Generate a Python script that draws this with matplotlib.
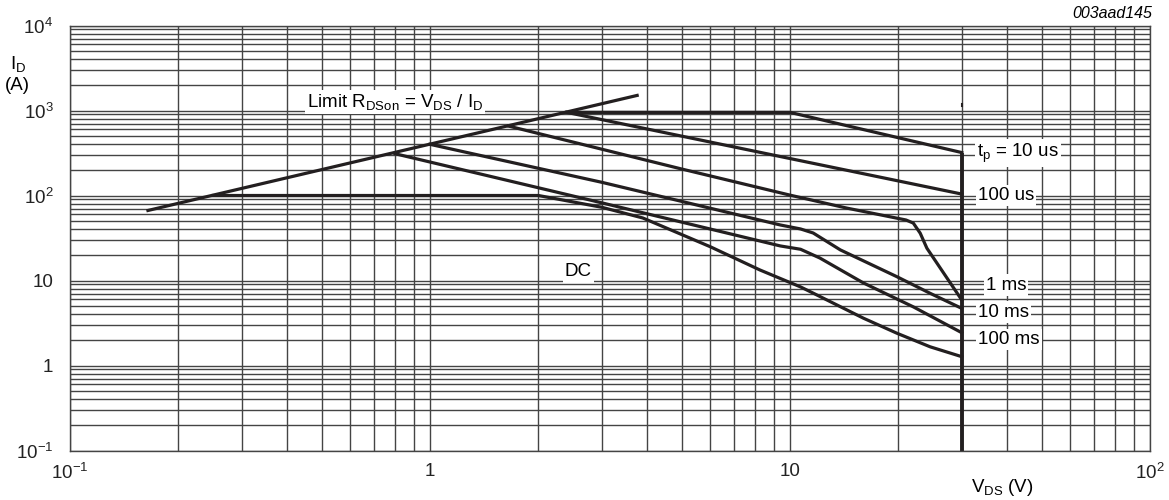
import matplotlib
matplotlib.use('Agg')
from matplotlib import pyplot as plt
from matplotlib.ticker import FixedLocator, LogLocator, NullFormatter

plt.rcParams['font.family'] = ['Liberation Sans', 'DejaVu Sans']
plt.rcParams['mathtext.fontset'] = 'custom'
plt.rcParams['mathtext.rm'] = 'Liberation Sans'
plt.rcParams['mathtext.it'] = 'Liberation Sans:italic'

# safe operating area, V_DS (V) vs I_D (A)
limit_v = [0.163, 3.8]
limit_i = [66, 1520]

tp10us_v = [2.4, 10, 30]
tp10us_i = [950, 950, 320]

tp100us_v = [2.4, 30]
tp100us_i = [950, 104]

tp1ms_v = [1.65, 5.0, 10, 14.4, 21, 22, 23, 24, 25.6, 30]
tp1ms_i = [657, 205, 101, 71, 51.5, 47.4, 36, 24, 16, 5.9]

tp10ms_v = [1.0, 2.0, 3.0, 9.4, 10.7, 11.6, 13.8, 19.8, 24.5, 30]
tp10ms_i = [400, 209, 143, 45, 40.4, 36.2, 22.9, 11.1, 7.07, 4.7]

tp100ms_v = [0.8, 3.0, 9.4, 10.7, 12.1, 16, 22, 30]
tp100ms_i = [310, 82, 25.5, 23.3, 18.4, 9.35, 4.9, 2.43]

dc_v = [0.25, 2.0, 3.0, 3.9, 6.0, 8.25, 10.7, 11.6, 16, 19.8, 24.5, 30]
dc_i = [100, 100, 72.7, 54.4, 25, 13.3, 8.4, 7.1, 3.6, 2.4, 1.66, 1.27]

vds_max = 30
vmax_i = [0.1, 320]

x_ticks = [0.1, 1, 10, 100]
x_labels = [r'$\mathregular{10^{-1}}$', '1', '10', r'$\mathregular{10^{2}}$']
y_ticks = [0.1, 1, 10, 100, 1000, 10000]
y_labels = [r'$\mathregular{10^{-1}}$', '1', '10', r'$\mathregular{10^{2}}$',
            r'$\mathregular{10^{3}}$', r'$\mathregular{10^{4}}$']

ink = '#231f20'
grid_col = '#444444'

fig = plt.figure(figsize=(11.69, 5.0), dpi=100)
ax = fig.add_axes([70 / 1169, 1 - 450.5 / 500, 1080 / 1169, 425 / 500])
ax.set_xscale('log')
ax.set_yscale('log')
ax.set_xlim(0.1, 100)
ax.set_ylim(0.1, 10000)

ax.xaxis.set_major_locator(FixedLocator(x_ticks))
ax.set_xticklabels(x_labels)
ax.yaxis.set_major_locator(FixedLocator(y_ticks))
ax.set_yticklabels(y_labels)
ax.xaxis.set_minor_locator(LogLocator(base=10, subs=range(2, 10)))
ax.yaxis.set_minor_locator(LogLocator(base=10, subs=range(2, 10)))
ax.xaxis.set_minor_formatter(NullFormatter())
ax.yaxis.set_minor_formatter(NullFormatter())
ax.grid(True, which='both', color=grid_col, linewidth=1.0)
ax.tick_params(which='both', length=0, labelsize=13.5, colors='#222222')
ax.tick_params(axis='x', pad=9)
ax.tick_params(axis='y', pad=12)
for s in ax.spines.values():
    s.set_color(grid_col)
    s.set_linewidth(1.0)

lw = 2.3
ax.plot(limit_v, limit_i, color=ink, lw=lw, solid_capstyle='butt')
ax.plot(tp10us_v, tp10us_i, color=ink, lw=lw)
ax.plot(tp100us_v, tp100us_i, color=ink, lw=lw)
ax.plot(tp1ms_v, tp1ms_i, color=ink, lw=lw)
ax.plot(tp10ms_v, tp10ms_i, color=ink, lw=lw)
ax.plot(tp100ms_v, tp100ms_i, color=ink, lw=lw)
ax.plot(dc_v, dc_i, color=ink, lw=lw)
ax.plot([vds_max, vds_max], vmax_i, color=ink, lw=2.8, solid_capstyle='butt')
ax.plot([vds_max, vds_max], [1140, 1190], color=ink, lw=1.5)

box = dict(facecolor='white', edgecolor='none', pad=1.5)
fs = 13.5
ax.text(0.455, 1259, r'Limit R$_{\mathregular{DSon}}$ = V$_{\mathregular{DS}}$ / I$_{\mathregular{D}}$',
        fontsize=fs, va='center', ha='left', bbox=box, zorder=5)
ax.text(33.1, 316, r't$_{\mathregular{p}}$ = 10 us', fontsize=fs, va='center', ha='left', bbox=box, zorder=5)
ax.text(33.3, 100, '100 us', fontsize=fs, va='center', ha='left', bbox=box, zorder=5)
ax.text(35.0, 8.85, '1 ms', fontsize=fs, va='center', ha='left', bbox=box, zorder=5)
ax.text(33.3, 4.26, '10 ms', fontsize=fs, va='center', ha='left', bbox=box, zorder=5)
ax.text(33.3, 2.0, '100 ms', fontsize=fs, va='center', ha='left', bbox=box, zorder=5)
ax.text(2.58, 12.6, 'DC', fontsize=fs, va='center', ha='center', bbox=box, zorder=5)

fig.text(18 / 1169, 1 - 64 / 500, r'I$_{\mathregular{D}}$', fontsize=fs, ha='center', va='center')
fig.text(17 / 1169, 1 - 86 / 500, '(A)', fontsize=fs, ha='center', va='center')
fig.text(1002 / 1169, 1 - 488 / 500, r'V$_{\mathregular{DS}}$ (V)', fontsize=fs, ha='center', va='center')
fig.text(1152 / 1169, 1 - 13 / 500, '003aad145', fontsize=11.5, style='italic', ha='right', va='center')

fig.savefig('out.png', dpi=100, facecolor='white')
